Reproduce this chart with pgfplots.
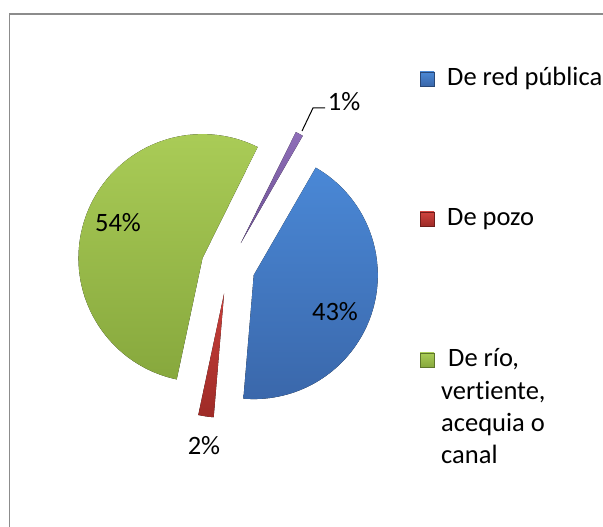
\documentclass[border=0pt]{standalone}
\usepackage{pgfplots}
\pgfplotsset{compat=1.18}
\usepackage{pgfplotstable}
\usepackage{fontspec}
\setmainfont{Carlito}[Ligatures=NoCommon]

\definecolor{aTop}{HTML}{4A88D6}
\definecolor{aBot}{HTML}{3A67AA}
\definecolor{bTop}{HTML}{D0433E}
\definecolor{bBot}{HTML}{9E2B27}
\definecolor{cTop}{HTML}{AACC57}
\definecolor{cBot}{HTML}{87A83D}
\definecolor{dTop}{HTML}{8E6EB8}
\definecolor{dBot}{HTML}{654A8A}
\definecolor{frame}{HTML}{8C8C8C}

% water source shares, percent (a = red publica, b = pozo, c = rio..., d = other)
\pgfplotstableread{
key value
a 43
b 2
c 54
d 1
}\piedata

\begin{document}
\fontsize{26.5}{32.7}\selectfont
\begin{tikzpicture}
\useasboundingbox (0,0) rectangle (603pt,527pt);
\clip (0,0) rectangle (603pt,527pt);
\begin{axis}[
  at={(0,0)}, anchor=south west,
  width=603pt, height=527pt, scale only axis,
  xmin=0, xmax=603, ymin=0, ymax=527,
  hide axis, clip=false,
]
% exploded pie, first slice starts at 60 deg, clockwise
\pgfplotsextra{
  \xdef\startang{60}
  \foreach \i in {0,...,3}{
    \pgfplotstablegetelem{\i}{value}\of\piedata \let\val\pgfplotsretval
    \pgfplotstablegetelem{\i}{key}\of\piedata \let\k\pgfplotsretval
    \pgfmathsetmacro\endang{\startang-3.6*\val}
    \pgfmathsetmacro\midang{(\startang+\endang)/2}
    \fill[top color=\k Top, bottom color=\k Bot]
      (axis cs:228,260) ++(\midang:27pt) -- ++(\startang:124pt)
      arc[start angle=\startang, end angle=\endang, radius=124pt] -- cycle;
    \xdef\startang{\endang}
  }
}

% data labels
\node[anchor=base, inner sep=0] at (axis cs:118,295) {54\%};
\node[anchor=base, inner sep=0] at (axis cs:335,206.5) {43\%};
\node[anchor=base, inner sep=0] at (axis cs:204,72.5) {2\%};
\node[anchor=base, inner sep=0] at (axis cs:344,416) {1\%};
\draw[black, line width=1pt] (axis cs:302,396) -- (axis cs:313,419) -- (axis cs:325,419);

% legend
\fill[top color=aTop, bottom color=aBot, draw=aBot!70!black, line width=0.5pt]
  (axis cs:420,441) rectangle (axis cs:434,455);
\fill[top color=bTop, bottom color=bBot, draw=bBot!70!black, line width=0.5pt]
  (axis cs:420,301) rectangle (axis cs:434,315);
\fill[top color=cTop, bottom color=cBot, draw=cBot!70!black, line width=0.5pt]
  (axis cs:420,160) rectangle (axis cs:434,174);
\node[anchor=base west, inner sep=0] at (axis cs:447,441) {De red pública};
\node[anchor=base west, inner sep=0] at (axis cs:447,301) {De pozo};
\node[anchor=base west, inner sep=0] at (axis cs:448,160.3) {De río,};
\node[anchor=base west, inner sep=0] at (axis cs:441,127.9) {vertiente,};
\node[anchor=base west, inner sep=0] at (axis cs:441,95.5) {acequia o};
\node[anchor=base west, inner sep=0] at (axis cs:441,63.1) {canal};

% chart frame (right and bottom edges fall outside the picture)
\draw[frame, line width=1.5pt] (axis cs:9.5,-20) -- (axis cs:9.5,513) -- (axis cs:640,513);
\end{axis}
\end{tikzpicture}
\end{document}
